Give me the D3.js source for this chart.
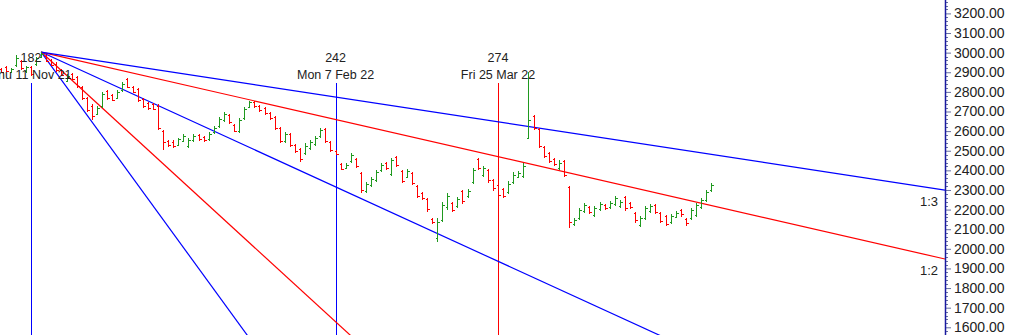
<!DOCTYPE html>
<html>
<head>
<meta charset="utf-8">
<script src="https://cdn.jsdelivr.net/npm/d3@7/dist/d3.min.js"></script>
<style>
  html, body { margin: 0; padding: 0; background: #fff; }
  svg { display: block; font-family: "Liberation Sans", Arial, sans-serif; }
</style>
</head>
<body>
<svg id="chart" width="1010" height="335"></svg>
<script>
// Daily OHLC bars, indexed by session number
const firstBar = 176;
const opens = [2916,2927,2901,2937,2957,2906,2927,2942,2978,2983,2962,2942,2911,2855,2891,2876,2825,2768,2728,2687,
  2728,2804,2784,2768,2809,2865,2825,2814,2763,2743,2738,2728,2600,2549,2544,2529,2549,2524,2554,2580,
  2569,2559,2595,2626,2656,2682,2631,2600,2666,2722,2748,2728,2717,2692,2672,2615,2549,2585,2529,2508,
  2488,2513,2534,2575,2610,2544,2498,2432,2411,2447,2457,2386,2294,2325,2350,2401,2437,2381,2467,2396,
  2365,2386,2319,2284,2253,2151,2054,2146,2212,2233,2217,2294,2268,2340,2457,2376,2401,2350,2325,2304,
  2289,2340,2365,2370,2564,2677,2610,2518,2488,2457,2411,2447,2314,2126,2156,2192,2212,2172,2202,2223,
  2212,2228,2217,2263,2233,2182,2120,2156,2192,2223,2182,2166,2136,2161,2197,2151,2156,2172,2212,2248,2299];
const highs = [2921,2932,2921,2988,2962,2932,2932,2978,3003,2988,2967,2952,2916,2891,2896,2881,2830,2774,2738,2728,
  2799,2809,2789,2809,2850,2870,2830,2819,2768,2748,2743,2738,2605,2554,2554,2564,2585,2564,2585,2585,
  2575,2595,2626,2672,2697,2687,2636,2666,2722,2753,2753,2733,2722,2697,2677,2620,2595,2590,2534,2513,
  2539,2554,2575,2615,2615,2549,2503,2437,2437,2488,2462,2391,2340,2365,2401,2437,2442,2462,2473,2401,
  2406,2391,2325,2289,2258,2156,2156,2238,2284,2238,2263,2299,2304,2411,2462,2421,2406,2355,2330,2309,
  2345,2391,2396,2437,2901,2682,2615,2524,2493,2462,2452,2452,2319,2156,2207,2233,2217,2217,2238,2228,
  2243,2268,2248,2268,2238,2187,2166,2217,2228,2228,2187,2172,2177,2192,2202,2156,2207,2233,2258,2299,2335];
const lows = [2896,2901,2896,2927,2911,2896,2881,2932,2972,2952,2932,2901,2881,2850,2860,2819,2758,2697,2656,2682,
  2717,2758,2753,2763,2799,2819,2794,2748,2717,2707,2707,2605,2503,2518,2513,2524,2544,2513,2544,2549,
  2544,2549,2585,2615,2646,2636,2595,2590,2656,2717,2717,2697,2682,2656,2605,2539,2539,2518,2488,2442,
  2478,2503,2524,2564,2539,2493,2478,2401,2406,2437,2411,2284,2284,2314,2340,2391,2401,2370,2416,2335,
  2360,2325,2258,2248,2187,2126,2034,2136,2197,2187,2207,2228,2258,2330,2401,2365,2335,2294,2238,2258,
  2279,2330,2360,2360,2564,2605,2513,2462,2437,2421,2401,2365,2105,2115,2146,2182,2177,2161,2192,2197,
  2202,2217,2207,2192,2202,2131,2110,2146,2182,2177,2131,2115,2126,2156,2161,2115,2146,2161,2202,2238,2289];
const closes = [2901,2906,2916,2972,2921,2927,2891,2972,2993,2957,2937,2911,2886,2881,2865,2830,2768,2707,2677,2717,
  2789,2768,2758,2799,2840,2825,2799,2758,2728,2717,2712,2615,2544,2529,2524,2559,2575,2554,2575,2559,
  2554,2585,2615,2661,2687,2646,2600,2656,2712,2748,2728,2707,2692,2666,2615,2549,2585,2529,2498,2457,
  2524,2544,2564,2605,2549,2503,2483,2406,2427,2478,2421,2299,2330,2355,2391,2427,2411,2452,2427,2345,
  2396,2335,2268,2258,2202,2136,2136,2223,2268,2197,2253,2243,2294,2401,2411,2411,2350,2309,2274,2268,
  2330,2376,2386,2421,2656,2615,2524,2473,2447,2432,2437,2376,2136,2146,2197,2223,2187,2207,2228,2207,
  2233,2258,2238,2207,2212,2146,2156,2207,2217,2187,2141,2126,2166,2182,2177,2131,2197,2223,2248,2289,2325];

// Marked sessions with their dates
const markBars = [182, 242, 274];
const markDates = ["Thu 11 Nov 21", "Mon 7 Feb 22", "Fri 25 Mar 22"];
const markColors = ["#0000ff", "#0000ff", "#ff0000"];

// Gann fan anchored on the swing high
const fanBar = 184;
const fanPrice = 3003;
const unitSlope = 11.85;           // price per bar for the 1x1 line
const fanRatios = [3, 2, 1, 1/2, 1/3];
const fanNames = ["3:1", "2:1", "1:1", "1:2", "1:3"];
const fanColors = ["#0000ff", "#ff0000", "#0000ff", "#ff0000", "#0000ff"];

// Price axis ticks
const priceTicks = [1600,1700,1800,1900,2000,2100,2200,2300,2400,2500,2600,2700,2800,2900,3000,3100,3200];

const W = 1010, H = 335, axisX = 945;
const svg = d3.select("#chart");

const x = d3.scaleLinear().domain([182, 274]).range([31, 498]);
const y = d3.scaleLinear().domain([1600, 3200]).range([327.3, 13.4]);

const bars = opens.map((o, i) => ({ i: firstBar + i, o, h: highs[i], l: lows[i], c: closes[i] }));

svg.append("defs").append("clipPath").attr("id", "plot")
  .append("rect").attr("x", 0).attr("y", 0).attr("width", axisX).attr("height", H);

const plot = svg.append("g").attr("clip-path", "url(#plot)");

// Vertical session markers
markBars.forEach((b, k) => {
  const px = Math.round(x(b)) + 0.5;
  plot.append("rect").attr("x", px - 0.5).attr("y", 83).attr("width", 1).attr("height", H - 83)
    .style("fill", markColors[k]);
});

// Fan lines
const endBar = x.invert(axisX);
fanRatios.forEach((r, k) => {
  const endPrice = fanPrice - unitSlope * r * (endBar - fanBar);
  plot.append("line")
    .attr("x1", x(fanBar)).attr("y1", y(fanPrice))
    .attr("x2", x(endBar)).attr("y2", y(endPrice))
    .attr("stroke", fanColors[k]).attr("stroke-width", 1.2);
});

// OHLC bars
const barG = plot.append("g").attr("shape-rendering", "crispEdges");
bars.forEach(d => {
  const cx = Math.round(x(d.i)) + 0.5;
  const col = d.c >= d.o ? "#1f991f" : "#ff0000";
  const g = barG.append("g").attr("stroke", col).attr("stroke-width", 1);
  g.append("line").attr("x1", cx).attr("x2", cx).attr("y1", y(d.h)).attr("y2", y(d.l));
  g.append("line").attr("x1", cx - 2).attr("x2", cx).attr("y1", Math.round(y(d.o)) + 0.5).attr("y2", Math.round(y(d.o)) + 0.5);
  g.append("line").attr("x1", cx).attr("x2", cx + 2).attr("y1", Math.round(y(d.c)) + 0.5).attr("y2", Math.round(y(d.c)) + 0.5);
});

// Marker labels: bar number above date
markBars.forEach((b, k) => {
  svg.append("text").attr("x", x(b)).attr("y", 62).attr("text-anchor", "middle")
    .attr("font-size", 12.5).attr("fill", "#222").text(b);
  svg.append("text").attr("x", x(b)).attr("y", 79).attr("text-anchor", "middle")
    .attr("font-size", 12.5).attr("fill", "#222").text(markDates[k]);
});

// Fan ratio labels at the right edge
fanRatios.forEach((r, k) => {
  const endPrice = fanPrice - unitSlope * r * (endBar - fanBar);
  const ey = y(endPrice);
  if (ey > 0 && ey < H - 20) {
    svg.append("text").attr("x", 938).attr("y", ey + 16).attr("text-anchor", "end")
      .attr("font-size", 13).attr("fill", "#222").text(fanNames[k]);
  }
});

// Price axis on the right
const axisG = svg.append("g").attr("transform", `translate(${axisX},0)`);
const minor = d3.range(1560, 3261, 20).filter(v => v % 100 !== 0);
axisG.selectAll("line.minor").data(minor).join("line")
  .attr("x1", 0).attr("x2", 3)
  .attr("y1", d => Math.round(y(d)) + 0.5).attr("y2", d => Math.round(y(d)) + 0.5)
  .attr("stroke", "#6670a0").attr("shape-rendering", "crispEdges");
const axis = d3.axisRight(y).tickValues(priceTicks).tickFormat(d3.format(".2f")).tickSize(6).tickPadding(3);
axisG.call(axis);
axisG.select(".domain").remove();
axisG.selectAll(".tick line").attr("stroke", "#6670a0");
axisG.selectAll(".tick text").attr("font-size", 14).attr("fill", "#222")
  .attr("font-family", "'Liberation Sans', Arial, sans-serif");
axisG.append("line").attr("x1", 0.5).attr("x2", 0.5).attr("y1", 0).attr("y2", H)
  .attr("stroke", "#1a1aa0").attr("stroke-width", 1.5);
</script>
</body>
</html>
